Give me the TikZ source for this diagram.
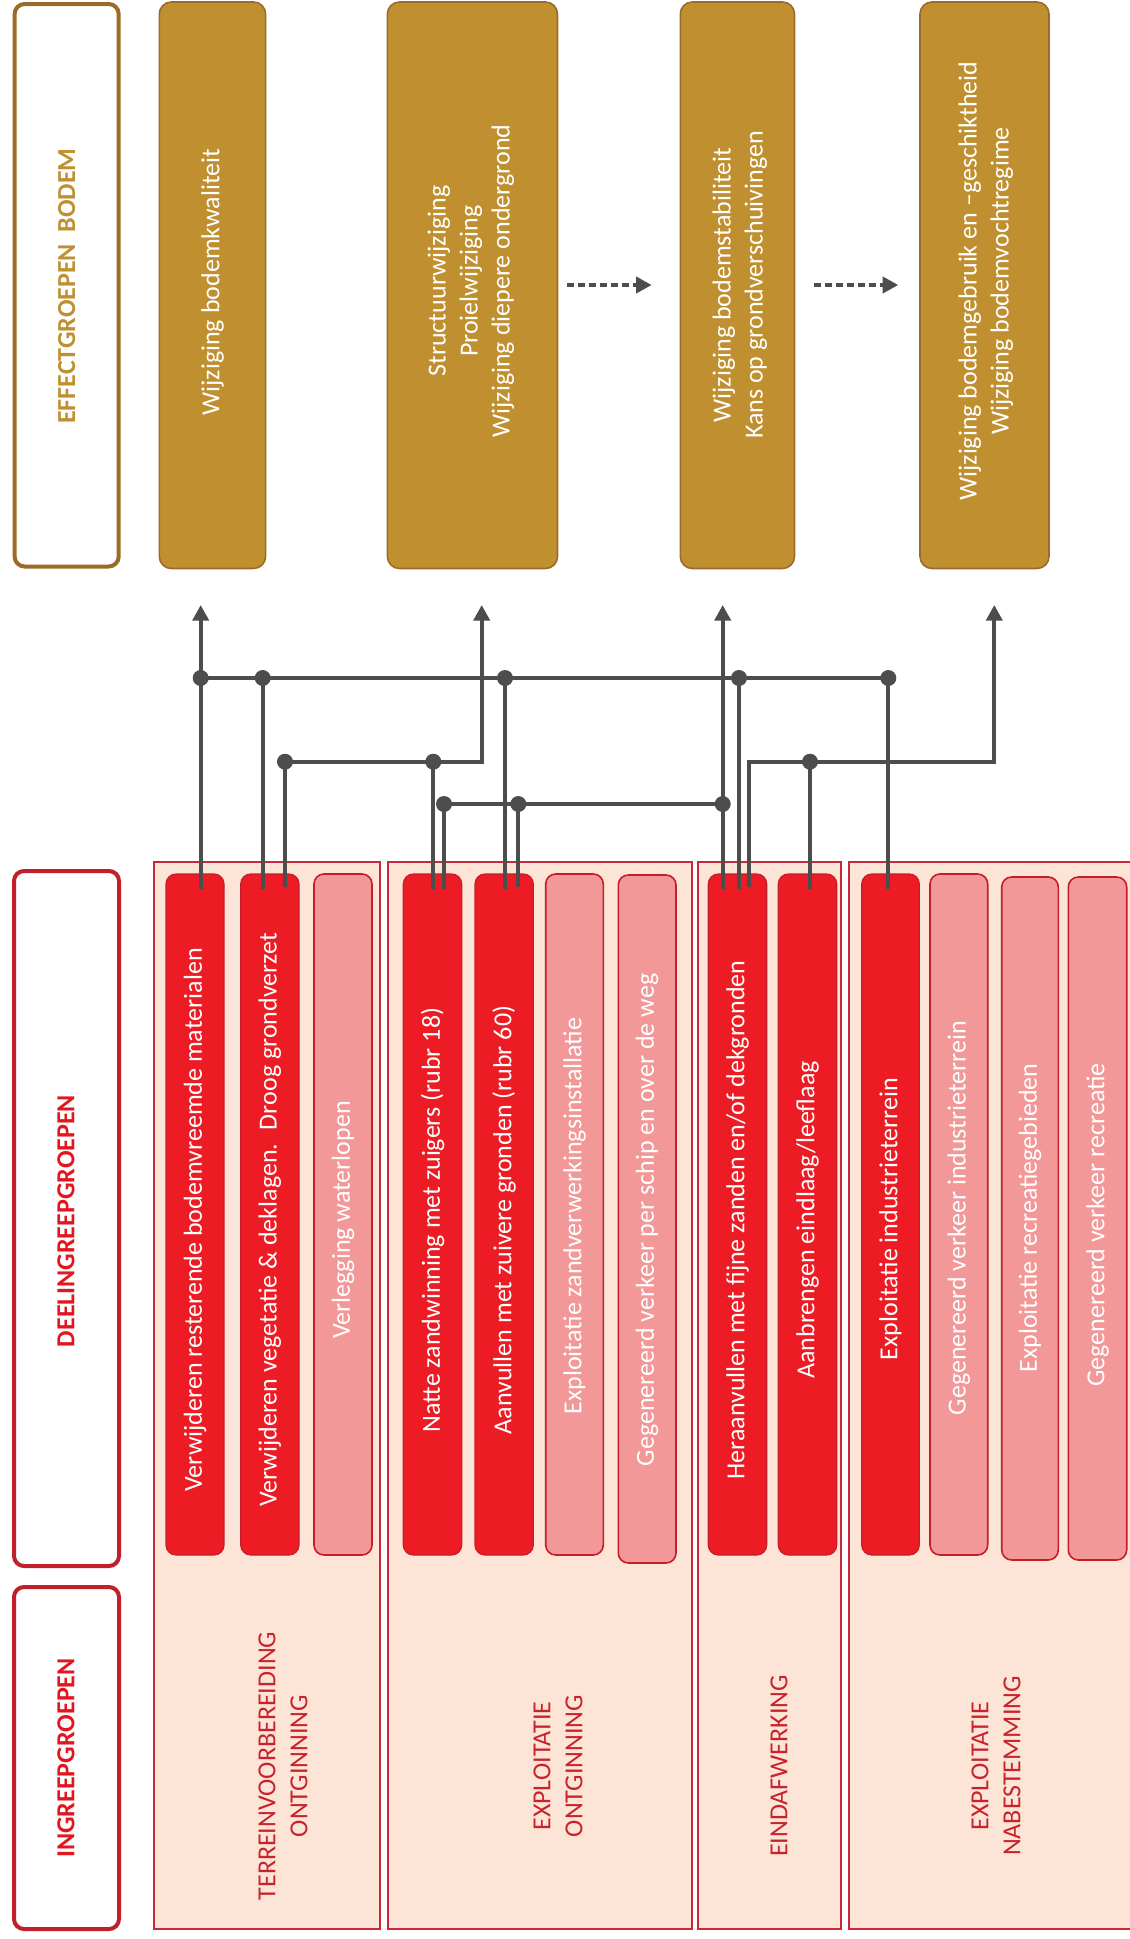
\documentclass[tikz,border=0pt]{standalone}
\usepackage{fontspec}
\setmainfont{Carlito}
\usetikzlibrary{fit,calc,arrows.meta}
\definecolor{gold}{HTML}{C09030}
\definecolor{goldline}{HTML}{9C6B2C}
\definecolor{hdrbrown}{HTML}{9C6A28}
\definecolor{hdrred}{HTML}{C0202A}
\definecolor{hdrtxt}{HTML}{E3151F}
\definecolor{peach}{HTML}{FCE4D6}
\definecolor{grpline}{HTML}{C8283A}
\definecolor{grptxt}{HTML}{C8232D}
\definecolor{actred}{HTML}{ED1C24}
\definecolor{actline}{HTML}{C41E2A}
\definecolor{pinkbox}{HTML}{F39898}
\definecolor{connc}{HTML}{4D4D4D}
\newcommand\bxfont{\fontsize{13}{16}\selectfont}
\begin{document}
\begin{tikzpicture}[x=0.5pt,y=-0.5pt,
  hdrE/.style={inner sep=0pt, draw=hdrbrown, line width=2pt, rounded corners=5pt, fill=white},
  hdrR/.style={inner sep=0pt, draw=hdrred, line width=2pt, rounded corners=5pt, fill=white},
  eff/.style={inner sep=0pt, fill=gold, draw=goldline, line width=0.8pt, rounded corners=6pt},
  grp/.style={inner sep=0pt, fill=peach, draw=grpline, line width=0.8pt},
  act/.style={inner sep=0pt, fill=actred, draw=actline, line width=0.6pt, rounded corners=5pt},
  pas/.style={inner sep=0pt, fill=pinkbox, draw=actline, line width=0.8pt, rounded corners=5pt},
  wtxt/.style={text=white, font=\bxfont, rotate=90, align=center, inner sep=0pt},
  gtxt/.style={text=grptxt, font=\bxfont, rotate=90, align=center, inner sep=0pt},
  htxtR/.style={text=hdrtxt, font=\bxfont\bfseries, rotate=90, inner sep=0pt},
  htxtE/.style={text=gold, font=\bxfont\bfseries, rotate=90, inner sep=0pt},
  conn/.style={draw=connc, line width=2.1pt, line join=miter},
  tip/.style={-{Triangle[width=8pt,length=7.8pt]}},
  dotc/.style={draw=connc, line width=2pt, dash pattern=on 3.35pt off 2.15pt, -{Triangle[width=8pt,length=7.8pt]}},
  dotn/.style={circle, fill=connc, inner sep=0pt, minimum size=8pt}
]
\useasboundingbox (0,0) rectangle (1130,1939);

% ---------- effect groups (top) ----------
\node[hdrE, fit={(14.6,4) (118.7,566.5)}] (E0) {};
\node[htxtE] (tE0) at (66.7,286) {EFFECTGROEPEN~ BODEM};
\node[eff, fit={(159.3,2) (265.6,568.5)}] (e1) {};
\node[wtxt] (te1) at (212.5,282) {Wijziging bodemkwaliteit};
\node[eff, fit={(387.4,2) (557.5,568.5)}] (e2) {};
\node[wtxt] (te2) at (471,281) {Structuurwijziging\\Proielwijziging\\Wijziging diepere ondergrond};
\node[eff, fit={(680.3,2) (794.5,568.5)}] (e3) {};
\node[wtxt] (te3) at (739.8,285) {Wijziging bodemstabiliteit\\Kans op grondverschuivingen};
\node[eff, fit={(920,2) (1049,568.5)}] (e4) {};
\node[wtxt] (te4) at (985.7,281) {Wijziging bodemgebruik en –geschiktheid\\Wijziging bodemvochtregime};

% dotted arrows between effects
\coordinate (da1) at (567.3,285); \coordinate (da2) at (651.7,285);
\coordinate (db1) at (814,285);   \coordinate (db2) at (898.3,285);
\draw[dotc] (da1) -- (da2);
\draw[dotc] (db1) -- (db2);

% ---------- headers (left) ----------
\node[hdrR, fit={(14,871) (119,1566)}] (D0) {};
\node[htxtR] (tD0) at (66,1221) {DEELINGREEPGROEPEN};
\node[hdrR, fit={(14,1587) (119,1929)}] (I0) {};
\node[htxtR] (tI0) at (66,1758) {INGREEPGROEPEN};

% ---------- intervention groups ----------
\node[grp, fit={(154,862) (380,1929)}] (g1) {};
\node[grp, fit={(387.7,862) (691.7,1929)}] (g2) {};
\node[grp, fit={(697.7,862) (841,1929)}] (g3) {};
\node[grp, fit={(849,862) (1140,1929)}] (g4) {};
\node[gtxt] (tg1) at (283,1766) {TERREINVOORBEREIDING\\ONTGINNING};
\node[gtxt] (tg2) at (558,1766) {EXPLOITATIE\\ONTGINNING};
\node[gtxt] (tg3) at (779,1766) {EINDAFWERKING};
\node[gtxt] (tg4) at (996,1766) {EXPLOITATIE\\NABESTEMMING};

% ---------- sub-interventions ----------
\node[act, fit={(166,874) (224,1555)}] (b1) {};
\node[wtxt] (tb1) at (195,1220) {Verwijderen resterende bodemvreemde materialen};
\node[act, fit={(240.7,874) (299,1555)}] (b2) {};
\node[wtxt] (tb2) at (269.9,1220) {Verwijderen vegetatie \& deklagen.~ Droog grondverzet};
\node[pas, fit={(314,874) (372,1555)}] (b3) {};
\node[wtxt] (tb3) at (343,1220) {Verlegging waterlopen};
\node[act, fit={(403.3,874) (461.7,1555)}] (b4) {};
\node[wtxt] (tb4) at (432.5,1220) {Natte zandwinning met zuigers (rubr 18)};
\node[act, fit={(475,874) (533.3,1555)}] (b5) {};
\node[wtxt] (tb5) at (504.2,1220) {Aanvullen met zuivere gronden (rubr 60)};
\node[pas, fit={(545.7,874) (603.3,1555)}] (b6) {};
\node[wtxt] (tb6) at (574.5,1216) {Exploitatie zandverwerkingsinstallatie};
\node[pas, fit={(618.3,875) (676,1563)}] (b7) {};
\node[wtxt] (tb7) at (647.2,1220) {Gegenereerd verkeer per schip en over de weg};
\node[act, fit={(708.3,874) (766.7,1555)}] (b8) {};
\node[wtxt] (tb8) at (737.5,1220) {Heraanvullen met fijne zanden en/of dekgronden};
\node[act, fit={(778.3,874) (836.7,1555)}] (b9) {};
\node[wtxt] (tb9) at (807.5,1220) {Aanbrengen eindlaag/leeflaag};
\node[act, fit={(861.7,874) (919.3,1555)}] (b10) {};
\node[wtxt] (tb10) at (890.5,1219) {Exploitatie industrieterrein};
\node[pas, fit={(930,874) (987.7,1555)}] (b11) {};
\node[wtxt] (tb11) at (958.9,1218) {Gegenereerd verkeer industrieterrein};
\node[pas, fit={(1001.7,877) (1058.3,1560)}] (b12) {};
\node[wtxt] (tb12) at (1030,1218) {Exploitatie recreatiegebieden};
\node[pas, fit={(1068.3,877) (1126.7,1560)}] (b13) {};
\node[wtxt] (tb13) at (1097.5,1225) {Gegenereerd verkeer recreatie};

% ---------- connector points ----------
\coordinate (t1) at (200.7,605);
\coordinate (t2) at (481.7,605);
\coordinate (t3) at (722.7,605);
\coordinate (t4) at (994.3,605);
\coordinate (j1) at (200.7,678);
\coordinate (j2) at (262.7,678);
\coordinate (j3) at (505,678);
\coordinate (j4) at (739,678);
\coordinate (j5) at (888.3,678);
\coordinate (j6) at (285,761.7);
\coordinate (j7) at (433.3,761.7);
\coordinate (j8) at (444,804);
\coordinate (j9) at (518.3,804);
\coordinate (j10) at (722.7,804);
\coordinate (j11) at (810,761.7);
\coordinate (c2) at (481.7,761.7);
\coordinate (c4a) at (749.3,761.7);
\coordinate (c4b) at (994.3,761.7);
\coordinate (s1) at (200.7,889);
\coordinate (s2a) at (262.7,889);
\coordinate (s2b) at (285,887);
\coordinate (s4a) at (433.3,889);
\coordinate (s4b) at (444,889);
\coordinate (s5a) at (505,889);
\coordinate (s5b) at (518.3,887);
\coordinate (s8a) at (722.7,889);
\coordinate (s8b) at (739,889);
\coordinate (s8c) at (749.3,887);
\coordinate (s9) at (810,889);
\coordinate (s10) at (888.3,889);

% ---------- connectors ----------
\draw[conn,tip] (s1) -- (t1);
\draw[conn] (j1) -- (j5);
\draw[conn] (j2) -- (s2a);
\draw[conn] (j3) -- (s5a);
\draw[conn] (j4) -- (s8b);
\draw[conn] (j5) -- (s10);
\draw[conn,tip] (s2b) -- (j6) -- (c2) -- (t2);
\draw[conn] (j7) -- (s4a);
\draw[conn] (s4b) -- (j8) -- (j10);
\draw[conn] (j9) -- (s5b);
\draw[conn,tip] (s8a) -- (t3);
\draw[conn,tip] (s8c) -- (c4a) -- (c4b) -- (t4);
\draw[conn] (j11) -- (s9);

% ---------- junction dots ----------
\foreach \j in {j1,j2,j3,j4,j5,j6,j7,j8,j9,j10,j11}
  \node[dotn] (d\j) at (\j) {};
\end{tikzpicture}
\end{document}
